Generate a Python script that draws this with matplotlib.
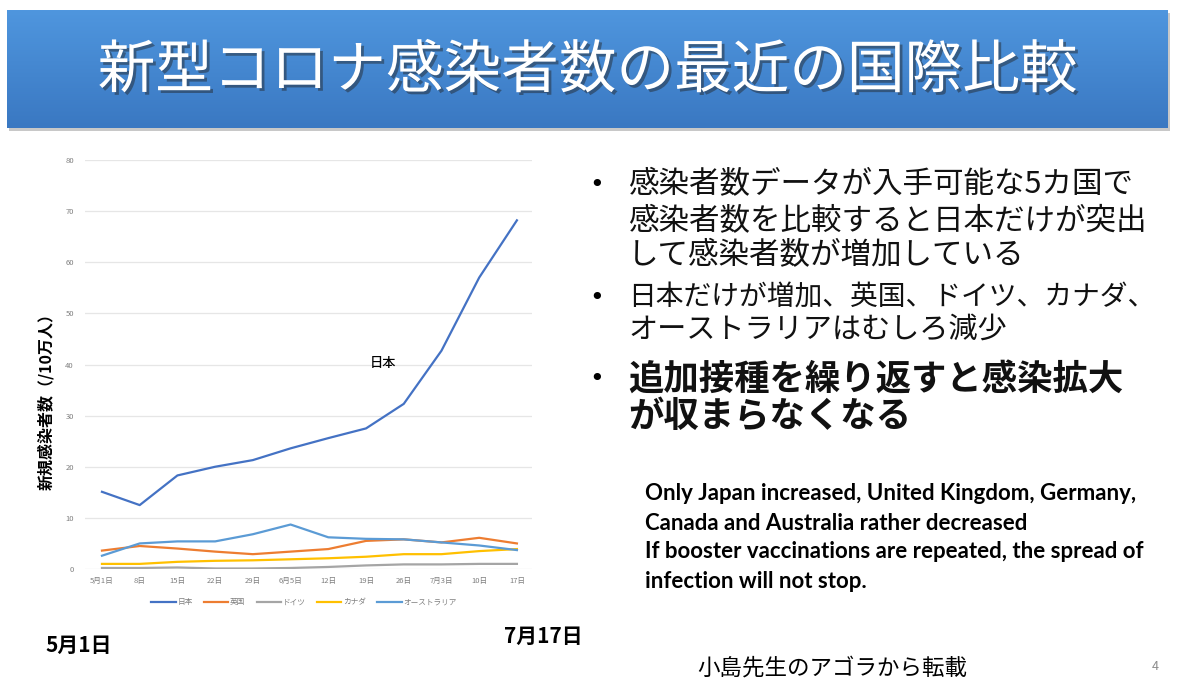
import numpy as np
import matplotlib.pyplot as plt
import matplotlib.patheffects as pe

plt.rcParams['font.family'] = ['Noto Sans CJK JP', 'DejaVu Sans']

# x-axis categories (weekly)
dates = ['5月1日', '8日', '15日', '22日', '29日', '6月5日', '12日', '19日', '26日', '7月3日', '10日', '17日']

# new cases per 100k
japan = [15.1, 12.5, 18.3, 20.0, 21.3, 23.6, 25.6, 27.5, 32.3, 42.7, 57.0, 68.2]
uk = [3.6, 4.5, 4.0, 3.4, 2.9, 3.4, 3.9, 5.5, 5.8, 5.2, 6.1, 5.0]
germany = [0.2, 0.2, 0.3, 0.1, 0.1, 0.2, 0.4, 0.7, 0.9, 0.9, 1.0, 1.0]
canada = [1.0, 1.0, 1.4, 1.6, 1.7, 1.9, 2.1, 2.4, 2.9, 2.9, 3.5, 3.9]
australia = [2.6, 5.0, 5.4, 5.4, 6.8, 8.7, 6.2, 5.9, 5.8, 5.2, 4.6, 3.7]

names = ['日本', '英国', 'ドイツ', 'カナダ', 'オーストラリア']
colors = ['#4472C4', '#ED7D31', '#A5A5A5', '#FFC000', '#5B9BD5']

W, H = 1200, 691
fig = plt.figure(figsize=(12, 6.91), dpi=100)
fig.patch.set_facecolor('white')

# title banner with a vertical gradient
shadow = fig.add_axes([9 / W, 1 - 131 / H, 1161 / W, 118 / H])
shadow.set_facecolor('#c8c8c8')
shadow.set_xticks([])
shadow.set_yticks([])
for s in shadow.spines.values():
    s.set_visible(False)
banner = fig.add_axes([7 / W, 1 - 128 / H, 1161 / W, 118 / H])
grad = np.linspace(0, 1, 100).reshape(-1, 1)
top = np.array([0x4f, 0x96, 0xde]) / 255
bot = np.array([0x3a, 0x78, 0xc2]) / 255
img = top + (bot - top) * grad[:, :, None]
banner.imshow(img, aspect='auto', extent=[0, 1, 0, 1])
banner.set_xlim(0, 1)
banner.set_ylim(0, 1)
banner.axis('off')
banner.text(0.5, 0.48, '新型コロナ感染者数の最近の国際比較', color='white', fontsize=41.5,
            ha='center', va='center', transform=banner.transAxes,
            path_effects=[pe.SimplePatchShadow(offset=(2, -2), shadow_rgbFace='#222222', alpha=0.45),
                          pe.Normal()])

# line chart
ax = fig.add_axes([85 / W, (H - 569) / H, (532 - 85) / W, (569 - 160) / H])
x = np.arange(len(dates))
for vals, name, c in zip([japan, uk, germany, canada, australia], names, colors):
    ax.plot(x, vals, color=c, lw=1.6, label=name)
ax.set_xlim(-0.45, 11.4)
ax.set_ylim(0, 80)
ax.set_yticks(range(0, 81, 10))
ax.set_xticks(x)
ax.set_xticklabels(dates)
ax.tick_params(axis='both', length=0, labelsize=5.5, labelcolor='#7f7f7f')
ax.tick_params(axis='y', pad=8)
ax.tick_params(axis='x', pad=6)
ax.grid(axis='y', color='#e6e6e6', lw=0.9)
ax.set_axisbelow(True)
for s in ax.spines.values():
    s.set_visible(False)
ax.text(7.45, 40.3, '日本', fontsize=9.5, fontweight='medium', ha='center', va='center', color='black')
ax.legend(loc='upper center', bbox_to_anchor=(0.49, -0.055), ncol=5, frameon=False,
          fontsize=5.5, labelcolor='#7f7f7f', handlelength=3.2, handletextpad=0.2,
          columnspacing=1.5)

fig.text(46 / W, 1 - 398 / H, '新規感染者数（/10万人）', rotation=90, fontsize=11.5,
         fontweight='bold', ha='center', va='center')

# bullets on the right
lines = [
    (185, '感染者数データが入手可能な5カ国で', True, False, 22),
    (222, '感染者数を比較すると日本だけが突出', False, False, 22),
    (256, 'して感染者数が増加している', False, False, 22),
    (298, '日本だけが増加、英国、ドイツ、カナダ、', True, False, 20),
    (330, 'オーストラリアはむしろ減少', False, False, 21),
    (379, '追加接種を繰り返すと感染拡大', True, True, 25.5),
    (417, 'が収まらなくなる', False, True, 25.5),
]
for y, txt, bullet, bold, fs in lines:
    fig.text(628 / W, 1 - y / H, txt, fontsize=fs, ha='left', va='center',
             fontweight='bold' if bold else 'normal', color='#111111')
    if bullet:
        fig.text(597 / W, 1 - y / H, '•', fontsize=18, ha='center', va='center',
                 family='DejaVu Sans')

eng = ['Only Japan increased, United Kingdom, Germany,',
       'Canada and Australia rather decreased',
       'If booster vaccinations are repeated, the spread of',
       'infection will not stop.']
for i, t in enumerate(eng):
    fig.text(645 / W, 1 - (494 + 29 * i) / H, t, fontsize=16, fontweight='bold',
             family=['Lato', 'DejaVu Sans'], ha='left', va='center')

fig.text(45 / W, 1 - 645 / H, '5月1日', fontsize=15, fontweight='bold', ha='left', va='center')
fig.text(583 / W, 1 - 636 / H, '7月17日', fontsize=15, fontweight='bold', ha='right', va='center')
fig.text(832 / W, 1 - 668 / H, '小島先生のアゴラから転載', fontsize=16.2, ha='center', va='center')
fig.text(1155 / W, 1 - 667 / H, '4', fontsize=9, color='#8c8c8c', ha='center', va='center')

fig.savefig('out.png', dpi=100)
